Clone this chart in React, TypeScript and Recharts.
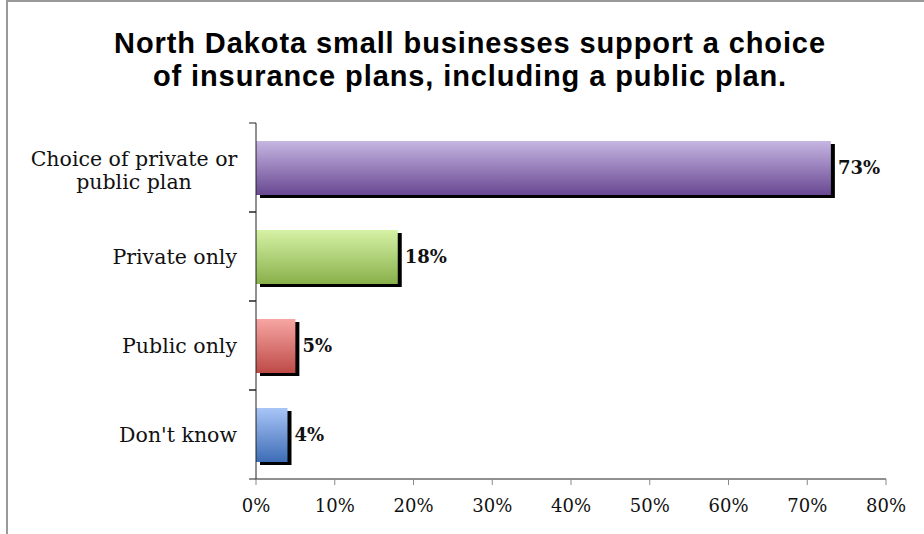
import React from "react";
import { BarChart, Bar, XAxis, YAxis, LabelList } from "recharts";

const CATEGORIES = [
  "Choice of private or\npublic plan",
  "Private only",
  "Public only",
  "Don't know",
];
const SHARES = [0.73, 0.18, 0.05, 0.04];
const X_TICKS = [0, 0.1, 0.2, 0.3, 0.4, 0.5, 0.6, 0.7, 0.8];
const TITLE_LINES = [
  "North Dakota small businesses support a choice",
  "of insurance plans, including a public plan.",
];

// gradient stops per bar, top -> bottom
const BAR_COLORS = [
  { top: "#c6b6e2", bottom: "#694892" },
  { top: "#d6f2a6", bottom: "#88b04a" },
  { top: "#f7a6a3", bottom: "#bd4a47" },
  { top: "#a9c5f8", bottom: "#3d6db5" },
];

const SERIF = "'DejaVu Serif', serif";

const data = CATEGORIES.map((name, i) => ({ name, share: SHARES[i] }));

const pct = (v: number) => `${Math.round(v * 100)}%`;

function ShadowBar(props: any) {
  const { x, y, width, height, index } = props;
  const c = BAR_COLORS[index];
  const id = `bar-grad-${index}`;
  return (
    <g>
      <defs>
        <linearGradient id={id} x1="0" y1="0" x2="0" y2="1">
          <stop offset="0" stopColor={c.top} />
          <stop offset="1" stopColor={c.bottom} />
        </linearGradient>
      </defs>
      <rect x={x + 4} y={y + 3} width={width} height={height} fill="#000" />
      <rect x={x} y={y} width={width} height={height} fill={`url(#${id})`} />
    </g>
  );
}

function CategoryTick(props: any) {
  const { x, y, payload } = props;
  const axisX = x + 19;
  const half = payload.offset || 44.5;
  const lines: string[] = String(payload.value).split("\n");
  return (
    <g>
      <line x1={axisX - 7} x2={axisX} y1={y - half} y2={y - half} stroke="#222" />
      <line x1={axisX - 7} x2={axisX} y1={y + half} y2={y + half} stroke="#222" />
      {lines.length === 1 ? (
        <text x={x} y={y} dy="0.36em" textAnchor="end" fontFamily={SERIF} fontSize={20.5} fill="#111">
          {lines[0]}
        </text>
      ) : (
        <text textAnchor="middle" fontFamily={SERIF} fontSize={20.5} fill="#111">
          {lines.map((l, i) => (
            <tspan key={i} x={x - 103} y={y + 3 + (i - (lines.length - 1) / 2) * 23} dy="0.36em">
              {l}
            </tspan>
          ))}
        </text>
      )}
    </g>
  );
}

export default function App() {
  return (
    <div style={{ position: "fixed", left: 0, top: 0, width: 924, height: 534, overflow: "hidden", background: "#fff" }}>
      <div
        style={{
          position: "absolute",
          left: 6,
          top: 0,
          width: 1000,
          height: 1000,
          borderLeft: "2px solid #999",
          borderTop: "2px solid #999",
        }}
      />
      <div
        style={{
          position: "absolute",
          left: 8,
          top: 27,
          width: 924,
          textAlign: "center",
          fontFamily: "'Liberation Sans', Arial, sans-serif",
          fontWeight: "bold",
          fontSize: 29,
          letterSpacing: 0.9,
          lineHeight: "33px",
          color: "#000",
        }}
      >
        {TITLE_LINES.map((t, i) => (
          <div key={i}>{t}</div>
        ))}
      </div>
      <div style={{ position: "absolute", left: 0, top: 0 }}>
        <BarChart
          width={924}
          height={534}
          data={data}
          layout="vertical"
          margin={{ top: 123, right: 38, bottom: 0, left: 0 }}
          barSize={54}
        >
          <XAxis
            type="number"
            domain={[0, 0.8]}
            ticks={X_TICKS}
            tickFormatter={pct}
            height={55}
            axisLine={{ stroke: "#222" }}
            tickLine={{ stroke: "#888" }}
            tickSize={6}
            tickMargin={14}
            tick={{ fontFamily: SERIF, fontSize: 18, fill: "#111" }}
          />
          <YAxis
            type="category"
            dataKey="name"
            width={256}
            axisLine={{ stroke: "#222" }}
            tickLine={false}
            tickSize={0}
            tickMargin={19}
            tick={<CategoryTick />}
            interval={0}
          />
          <Bar dataKey="share" shape={<ShadowBar />} isAnimationActive={false}>
            <LabelList
              dataKey="share"
              position="right"
              offset={7}
              formatter={(v: any) => pct(Number(v))}
              style={{ fontFamily: SERIF, fontWeight: "bold", fontSize: 18, fill: "#111" }}
            />
          </Bar>
        </BarChart>
      </div>
    </div>
  );
}
